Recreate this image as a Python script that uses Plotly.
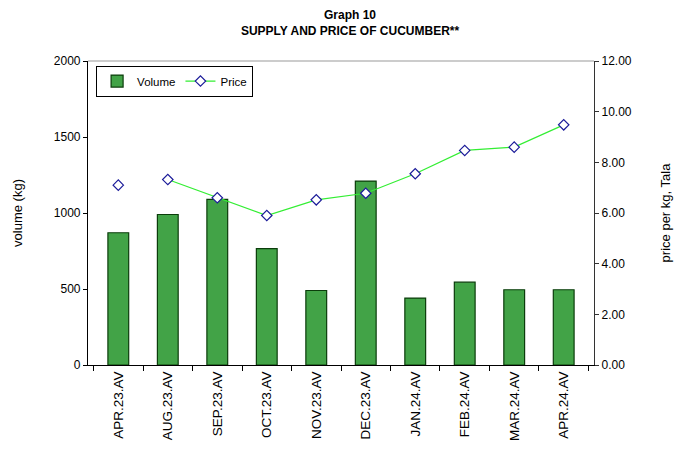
import plotly.graph_objects as go

months = ["APR.23.AV", "AUG.23.AV", "SEP.23.AV", "OCT.23.AV", "NOV.23.AV",
          "DEC.23.AV", "JAN.24.AV", "FEB.24.AV", "MAR.24.AV", "APR.24.AV"]
volume = [870, 990, 1090, 765, 490, 1210, 440, 545, 495, 495]
price = [7.10, 7.32, 6.60, 5.90, 6.52, 6.78, 7.55, 8.47, 8.60, 9.48]

font = "Liberation Sans, Arial, sans-serif"

fig = go.Figure()

fig.add_trace(go.Bar(
    x=months, y=volume, name="Volume",
    width=0.42,
    marker=dict(color="#42a347", line=dict(color="#0b3d0b", width=1.2)),
))

# first price point is not joined to the rest
fig.add_trace(go.Scatter(
    x=months[:1], y=price[:1], yaxis="y2", mode="markers",
    marker=dict(symbol="diamond", size=8, color="white",
                line=dict(color="#1a1a99", width=1.2)),
    showlegend=False,
))
fig.add_trace(go.Scatter(
    x=months[1:], y=price[1:], yaxis="y2", mode="lines+markers", name="Price",
    line=dict(color="#33ee33", width=1.2),
    marker=dict(symbol="diamond", size=8, color="white",
                line=dict(color="#1a1a99", width=1.2)),
))

# page body adds ~8px offset, so margins are shifted to compensate
fig.update_layout(
    width=680, height=445,
    margin=dict(l=80, r=94, t=53, b=88, autoexpand=False),
    paper_bgcolor="white", plot_bgcolor="white",
    font=dict(family=font, size=12, color="black"),
    title=dict(text="<b>Graph 10<br>SUPPLY AND PRICE OF CUCUMBER**</b>",
               x=0.503, xanchor="center", y=0.975, yanchor="top",
               font=dict(size=12)),
    legend=dict(orientation="h", x=0.016, y=0.985, xanchor="left", yanchor="top",
                bordercolor="black", borderwidth=1, bgcolor="white",
                font=dict(size=11.5), itemwidth=30, tracegroupgap=0),
    xaxis=dict(
        automargin=False,
        showline=True, linecolor="black", linewidth=1.2,
        ticks="outside", tickson="boundaries", ticklen=5, tickcolor="black",
        tickangle=-90, tickfont=dict(size=13.5),
    ),
    yaxis=dict(
        automargin=False,
        range=[0, 2000], dtick=500, showgrid=False, zeroline=False,
        showline=True, linecolor="black", linewidth=1.2,
        ticks="outside", ticklen=4, tickcolor="black",
        tickfont=dict(size=12),
        title=dict(text="volume (kg)", font=dict(size=13), standoff=28),
    ),
    yaxis2=dict(
        automargin=False,
        range=[0, 12], dtick=2, tickformat=".2f", overlaying="y", side="right",
        showgrid=False, zeroline=False,
        showline=True, linecolor="#333333", linewidth=1.2,
        ticks="outside", ticklen=4, tickcolor="#333333",
        tickfont=dict(size=12),
        title=dict(text="price per kg, Tala", font=dict(size=13), standoff=30),
    ),
    shapes=[dict(type="line", xref="paper", yref="paper", x0=0, x1=1, y0=1, y1=1,
                 line=dict(color="#999999", width=1.2))],
)

fig.write_html("out.html")
